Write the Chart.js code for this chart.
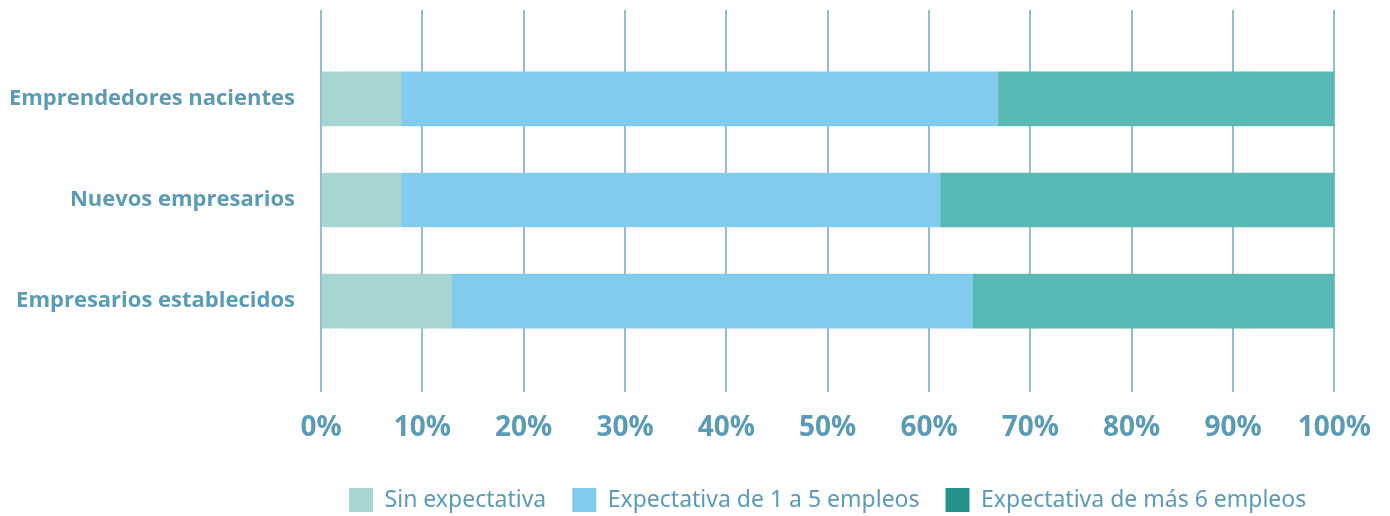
<!DOCTYPE html>
<html>
<head>
<meta charset="utf-8">
<script src="https://cdn.jsdelivr.net/npm/chart.js@4/dist/chart.umd.min.js"></script>
<style>
html, body { margin: 0; padding: 0; background: #fff; }
</style>
</head>
<body>
<canvas id="empleoChart" width="1390" height="516"></canvas>
<script>
// categorias y series
const categorias = ['Emprendedores nacientes', 'Nuevos empresarios', 'Empresarios establecidos'];
const series = ['Sin expectativa', 'Expectativa de 1 a 5 empleos', 'Expectativa de más 6 empleos'];
const sinExpectativa = [7.9, 7.9, 12.9];
const deUnoACinco = [58.9, 53.2, 51.4];
const masDeSeis = [33.2, 38.9, 35.7];

const colorBarras = ['#a7d5d2', '#81cbec', '#58b9b5'];
const colorLeyenda = ['#a7d5d2', '#81cbec', '#22928a'];
const azulTexto = '#5b9bb5';

function puntos(valores) {
	return valores.map((v, i) => ({ x: v, y: i }));
}

const ctx = document.getElementById('empleoChart').getContext('2d');
const chart = new Chart(ctx, {
	type: 'bar',
	data: {
		datasets: [
			{ label: series[0], data: puntos(sinExpectativa), backgroundColor: colorBarras[0] },
			{ label: series[1], data: puntos(deUnoACinco), backgroundColor: colorBarras[1] },
			{ label: series[2], data: puntos(masDeSeis), backgroundColor: colorBarras[2] }
		]
	},
	options: {
		indexAxis: 'y',
		responsive: false,
		animation: false,
		devicePixelRatio: 1,
		barThickness: 54,
		layout: { padding: { top: 10, right: 43, left: 0, bottom: -6 } },
		scales: {
			x: {
				type: 'linear',
				stacked: true,
				min: 0,
				max: 100,
				position: 'bottom',
				border: { display: false },
				grid: { color: '#93bccf', lineWidth: 2, drawTicks: false },
				ticks: {
					stepSize: 10,
					padding: 19,
					color: azulTexto,
					font: { family: 'Open Sans', size: 28, weight: 'bold' },
					callback: (v) => v + '%'
				},
				afterFit: (scale) => { scale.height = 70; }
			},
			y: {
				type: 'linear',
				stacked: true,
				reverse: true,
				offset: false,
				min: -0.88,
				max: 2.9,
				border: { display: false },
				grid: { display: false, offset: false },
				afterBuildTicks: (scale) => {
					scale.ticks = categorias.map((c, i) => ({ value: i }));
				},
				ticks: {
					padding: 18,
					color: azulTexto,
					font: { family: 'Open Sans', size: 22, weight: 'bold' },
					callback: (v) => categorias[v]
				},
				afterFit: (scale) => {
					scale.width = 321;
					scale.paddingTop = 0;
					scale.paddingBottom = 0;
				}
			}
		},
		plugins: {
			tooltip: { enabled: false },
			legend: {
				position: 'bottom',
				fullSize: false,
				labels: {
					boxWidth: 24,
					boxHeight: 24,
					padding: 26,
					color: azulTexto,
					font: { family: 'Noto Sans', size: 23 },
					generateLabels: (c) => {
						const items = Chart.defaults.plugins.legend.labels.generateLabels(c);
						items.forEach((it, i) => {
							it.fillStyle = colorLeyenda[i];
							it.strokeStyle = colorLeyenda[i];
							it.lineWidth = 0;
						});
						return items;
					}
				}
			}
		}
	}
});
</script>
</body>
</html>
